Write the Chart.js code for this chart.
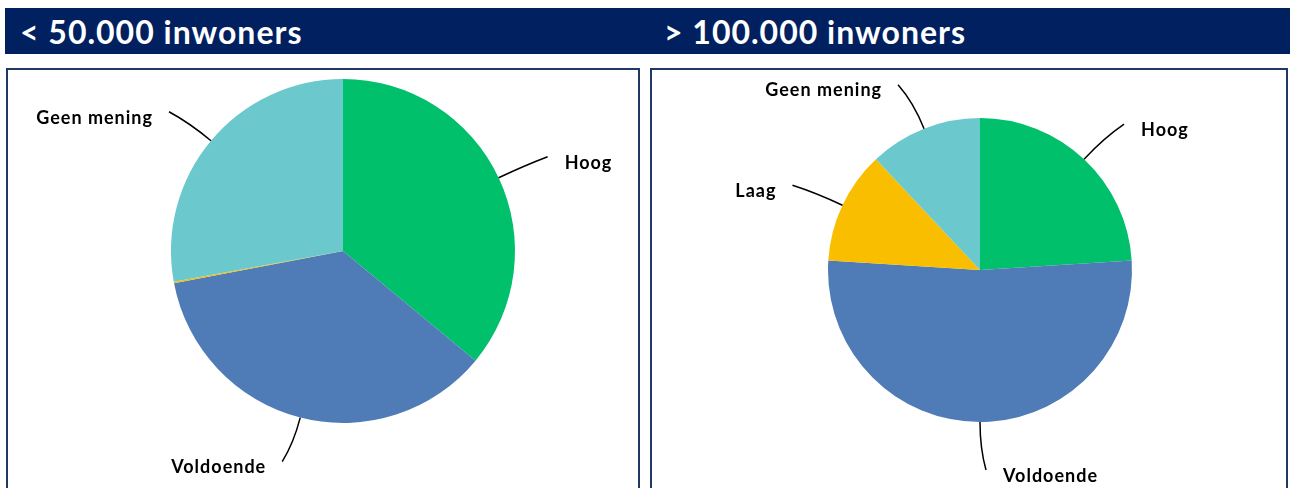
<!DOCTYPE html>
<html><head><meta charset="utf-8">
<script src="https://cdn.jsdelivr.net/npm/chart.js@4.4.1/dist/chart.umd.min.js"></script>
<style>
html,body{margin:0;padding:0;background:#fff;width:1290px;height:488px;overflow:hidden}
#bar{position:absolute;left:5px;top:8px;width:1285px;height:46px;background:#002060}
.title{position:absolute;top:8px;height:46px;line-height:48px;color:#fff;font-family:Lato,'Open Sans',sans-serif;font-weight:bold;font-size:32px;letter-spacing:1px;white-space:nowrap}
.panel{position:absolute;top:68px;height:440px;border:2px solid #1F3864;box-sizing:border-box}
canvas{position:absolute}
</style></head>
<body>
<div id="bar"></div>
<div class="title" id="t1" style="left:20px"></div>
<div class="title" id="t2" style="left:664px"></div>
<div class="panel" style="left:6px;width:634px"></div>
<div class="panel" style="left:650px;width:638px"></div>
<canvas id="c1" width="628" height="417" style="left:9px;top:71px"></canvas>
<canvas id="c2" width="632" height="417" style="left:653px;top:71px"></canvas>
<script>
const titles = ['< 50.000 inwoners', '> 100.000 inwoners'];
const categories = ['Hoog', 'Voldoende', 'Laag', 'Geen mening'];
const smallTownValues = [36, 36, 0.15, 27.85];
const largeTownValues = [24, 52, 12, 12];
const sliceColors = ['#00C06C', '#4F7BB7', '#F9BE00', '#6BC8CD'];

document.getElementById('t1').textContent = titles[0];
document.getElementById('t2').textContent = titles[1];

// label styling: offset of leader end from slice edge, alignment (null = no label)
const leftLabelStyle = [
  {dx: 49, dy: -21, align: 'left'},
  {dx: -18, dy: 44, align: 'right'},
  null,
  {dx: -42, dy: -29, align: 'right'}
];
const rightLabelStyle = [
  {dx: 40, dy: -35, align: 'left'},
  {dx: 6, dy: 48, align: 'left'},
  {dx: -50, dy: -20, align: 'right'},
  {dx: -26, dy: -44, align: 'right'}
];

const leaderPlugin = {
  id: 'leaders',
  afterDatasetsDraw(chart, args, opts) {
    const ctx = chart.ctx;
    const meta = chart.getDatasetMeta(0);
    const styles = opts.styles;
    meta.data.forEach((arc, i) => {
      const st = styles[i];
      if (!st) return;
      const p = arc.getProps(['x', 'y', 'startAngle', 'endAngle', 'outerRadius'], true);
      const mid = (p.startAngle + p.endAngle) / 2;
      const ux = Math.cos(mid), uy = Math.sin(mid);
      const sx = p.x + ux * p.outerRadius, sy = p.y + uy * p.outerRadius;
      const ex = sx + st.dx, ey = sy + st.dy;
      const d = Math.hypot(st.dx, st.dy);
      const cx = sx + ux * d * 0.55, cy = sy + uy * d * 0.55;
      ctx.save();
      ctx.strokeStyle = '#000';
      ctx.lineWidth = 1.5;
      ctx.beginPath();
      ctx.moveTo(sx, sy);
      ctx.quadraticCurveTo(cx, cy, ex, ey);
      ctx.stroke();
      ctx.fillStyle = '#000';
      ctx.font = 'bold 18px Lato, "Open Sans", sans-serif';
      ctx.letterSpacing = '1px';
      ctx.textBaseline = 'middle';
      ctx.textAlign = st.align;
      const tx = st.align === 'left' ? ex + 17 : ex - 16;
      ctx.fillText(chart.data.labels[i], tx, ey + 6);
      ctx.restore();
    });
  }
};

function makePie(id, values, padding, styles) {
  new Chart(document.getElementById(id), {
    type: 'pie',
    data: {
      labels: categories,
      datasets: [{data: values, backgroundColor: sliceColors, borderWidth: 0}]
    },
    options: {
      responsive: false,
      animation: false,
      layout: {padding: padding},
      plugins: {legend: {display: false}, tooltip: {enabled: false}, leaders: {styles: styles}}
    },
    plugins: [leaderPlugin]
  });
}

makePie('c1', smallTownValues, {left: 162, right: 122, top: 8, bottom: 65}, leftLabelStyle);
makePie('c2', largeTownValues, {left: 175, right: 153, top: 47, bottom: 66}, rightLabelStyle);
</script>
</body></html>
